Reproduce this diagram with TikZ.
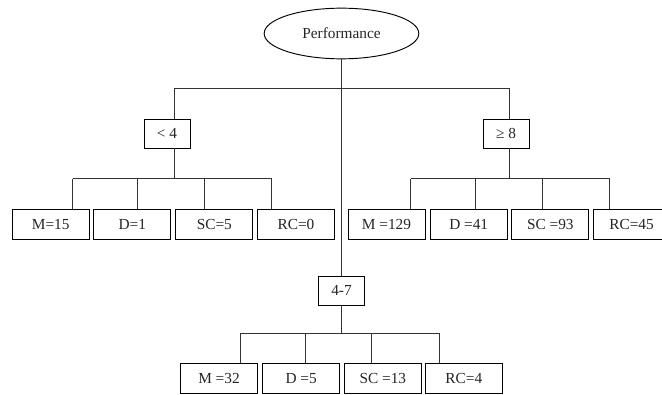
\documentclass[tikz,border=0pt]{standalone}
\usepackage{fontspec}
\setmainfont{Liberation Serif}
\usetikzlibrary{shapes.geometric}
\tikzset{
  base/.style={font=\fontsize{11.5}{13}\selectfont, text=black!85},
  rootnode/.style={base, draw, ellipse, minimum width=116pt, minimum height=38pt, inner sep=0pt, line width=0.7pt},
  condbox/.style={base, draw, rectangle, minimum width=34.5pt, minimum height=21.75pt, inner sep=0pt, line width=0.7pt},
  leafbox/.style={base, draw, rectangle, minimum width=57.75pt, minimum height=22.5pt, inner sep=0pt, line width=0.7pt},
  conn/.style={draw=black!80, line width=0.7pt}
}
\begin{document}
\begin{tikzpicture}[x=0.75pt,y=-0.75pt]
\useasboundingbox (0,0) rectangle (662,395);
\clip (0,0) rectangle (662,395);
\fill[white] (0,0) rectangle (662,395);

% nodes
\node[rootnode] (perf) at (341.5,33.5) {Performance};
\node[condbox] (lt4) at (167,133.5) {< 4};
\node[condbox] (ge8) at (506,133.5) {≥ 8};
\node[condbox] (r47) at (341.5,290.7) {4-7};

\node[leafbox] (m15) at (50.7,224.5) {M=15};
\node[leafbox] (d1)  at (132.3,224.5) {D=1};
\node[leafbox] (sc5) at (214.3,224.5) {SC=5};
\node[leafbox] (rc0) at (296,224.5) {RC=0};

\node[leafbox] (m129) at (386.5,224.5) {M =129};
\node[leafbox] (d41)  at (468.7,224.5) {D =41};
\node[leafbox] (sc93) at (550.3,224.5) {SC =93};
\node[leafbox] (rc45) at (631.6,224.5) {RC=45};

\node[leafbox] (m32)  at (219,378.2) {M =32};
\node[leafbox] (d5)   at (301.2,378.2) {D =5};
\node[leafbox] (sc13) at (382.8,378.2) {SC =13};
\node[leafbox] (rc4)  at (463.8,378.2) {RC=4};

% junction coordinates
\coordinate (jl) at (174,88.7);
\coordinate (jr) at (509,88.7);
\coordinate (jt) at (341,88.7);

\coordinate (a1) at (72.7,178.7);
\coordinate (a2) at (137.7,178.7);
\coordinate (a3) at (204,178.7);
\coordinate (a4) at (271.7,178.7);

\coordinate (b1) at (410.7,178.7);
\coordinate (b2) at (475.7,178.7);
\coordinate (b3) at (542,178.7);
\coordinate (b4) at (609.7,178.7);

\coordinate (c1) at (240.3,333);
\coordinate (c2) at (305.3,333);
\coordinate (c3) at (371.7,333);
\coordinate (c4) at (439.3,333);

% connectors
\draw[conn] (perf.south -| jt) -- (r47.north -| jt);
\draw[conn] (lt4.north -| jl) -- (jl) -- (jr) -- (ge8.north -| jr);

\draw[conn] (lt4.south -| jl) -- (jl |- a1);
\draw[conn] (a1) -- (a4);
\draw[conn] (a1) -- (m15.north -| a1);
\draw[conn] (a2) -- (d1.north -| a2);
\draw[conn] (a3) -- (sc5.north -| a3);
\draw[conn] (a4) -- (rc0.north -| a4);

\draw[conn] (ge8.south -| jr) -- (jr |- b1);
\draw[conn] (b1) -- (b4);
\draw[conn] (b1) -- (m129.north -| b1);
\draw[conn] (b2) -- (d41.north -| b2);
\draw[conn] (b3) -- (sc93.north -| b3);
\draw[conn] (b4) -- (rc45.north -| b4);

\draw[conn] (r47.south -| jt) -- (jt |- c1);
\draw[conn] (c1) -- (c4);
\draw[conn] (c1) -- (m32.north -| c1);
\draw[conn] (c2) -- (d5.north -| c2);
\draw[conn] (c3) -- (sc13.north -| c3);
\draw[conn] (c4) -- (rc4.north -| c4);
\end{tikzpicture}
\end{document}
